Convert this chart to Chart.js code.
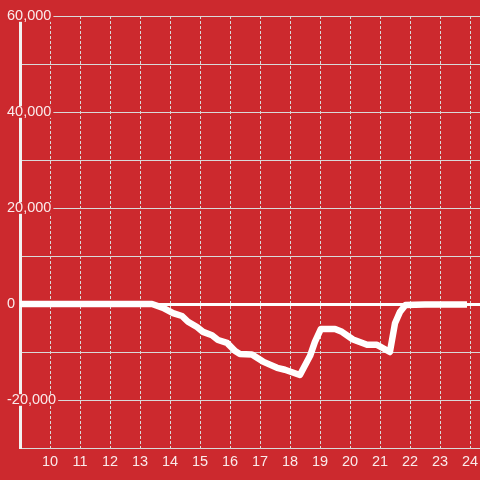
<!DOCTYPE html>
<html>
<head>
<meta charset="utf-8">
<script src="https://cdn.jsdelivr.net/npm/chart.js@4"></script>
<style>
  html, body { margin: 0; padding: 0; background: #cc292e; }
  #wrap { width: 480px; height: 480px; }
</style>
</head>
<body>
<div id="wrap"><canvas id="chart"></canvas></div>
<script>
/* data */
var hours = [9, 13.4, 13.77, 14.1, 14.4, 14.6, 14.9, 15.1, 15.4, 15.6, 15.9, 16.17, 16.33, 16.73,
             17.1, 17.57, 17.83, 18.33, 18.67, 18.83, 19.03, 19.5, 19.73, 20.1, 20.57, 20.9,
             21.33, 21.5, 21.67, 21.85, 22.5, 23.9];
var values = [0, 0, -800, -1900, -2500, -3700, -4800, -5800, -6500, -7500, -8100, -9800, -10400, -10500,
              -12000, -13300, -13700, -14800, -10800, -7900, -5200, -5200, -5800, -7400, -8500, -8500,
              -10000, -4000, -1600, -200, -100, -100];
var xTicks = [10, 11, 12, 13, 14, 15, 16, 17, 18, 19, 20, 21, 22, 23, 24];
var yLabelled = [60000, 40000, 20000, 0, -20000];

var red = '#cc292e';
var labelColor = 'rgba(255,255,255,0.9)';
var gridColor = '#d9d9d9';

var points = [];
for (var i = 0; i < hours.length; i++) {
	points.push({ x: hours[i], y: values[i] });
}

var ctx = document.getElementById('chart').getContext('2d');
var myChart = new Chart(ctx, {
	type: 'line',
	data: {
		datasets: [{
			data: points,
			borderColor: '#ffffff',
			borderWidth: 6.5,
			borderJoinStyle: 'round',
			pointRadius: 0,
			tension: 0,
			fill: false
		}]
	},
	options: {
		responsive: true,
		maintainAspectRatio: false,
		animation: false,
		layout: { padding: { top: 16, left: 0, right: 0, bottom: 0 } },
		plugins: { legend: { display: false }, tooltip: { enabled: false } },
		scales: {
			x: {
				type: 'linear',
				min: 9,
				max: 24.333,
				afterBuildTicks: function(scale) {
					scale.ticks = xTicks.map(function(v) { return { value: v }; });
				},
				afterFit: function(scale) {
					scale.height = 32;
					scale.paddingLeft = 0;
					scale.paddingRight = 0;
				},
				grid: { color: gridColor, lineWidth: 1, drawTicks: false },
				border: { display: true, color: gridColor, width: 1, dash: [3, 2] },
				ticks: {
					color: labelColor,
					padding: 5,
					maxRotation: 0,
					autoSkip: false,
					font: { family: '"Liberation Sans", Arial, sans-serif', size: 14.5 }
				}
			},
			y: {
				type: 'linear',
				min: -30000,
				max: 60000,
				afterFit: function(scale) { scale.width = 20; },
				grid: {
					drawTicks: false,
					color: function(c) { return c.tick && c.tick.value === 0 ? '#ffffff' : gridColor; },
					lineWidth: function(c) { return c.tick && c.tick.value === 0 ? 3 : 1; }
				},
				border: { display: true, color: '#f2f2f2', width: 3 },
				ticks: {
					stepSize: 10000,
					mirror: true,
					padding: -13,
					crossAlign: 'near',
					color: labelColor,
					font: { family: '"Liberation Sans", Arial, sans-serif', size: 14.5, lineHeight: 0.8 },
					showLabelBackdrop: function(c) { return yLabelled.indexOf(c.tick.value) >= 0; },
					backdropColor: red,
					backdropPadding: { left: 2, right: 2, top: 0, bottom: 0 },
					callback: function(v) {
						return yLabelled.indexOf(v) >= 0 ? v.toLocaleString('en-US') : '';
					}
				}
			}
		}
	}
});
</script>
</body>
</html>
